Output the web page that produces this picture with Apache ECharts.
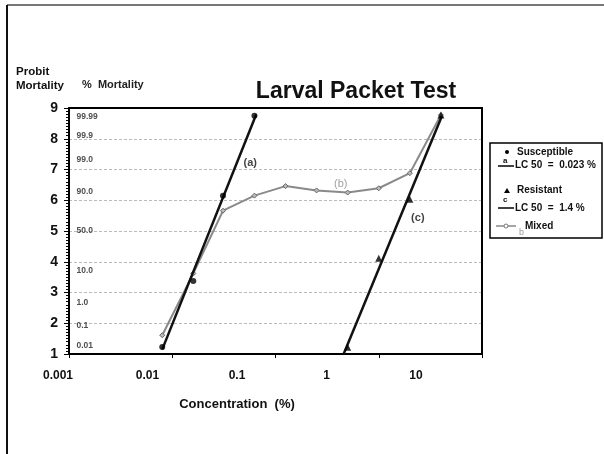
<!DOCTYPE html>
<html>
<head>
<meta charset="utf-8">
<script src="https://cdn.jsdelivr.net/npm/echarts@6/dist/echarts.min.js"></script>
<style>
  html, body { margin: 0; padding: 0; background: #fff; }
  #main { width: 604px; height: 454px; }
</style>
</head>
<body>
<div id="main"></div>
<script>
// data (concentration %, probit)
var susConc = [0.008, 0.016, 0.031, 0.0625];
var susProbit = [1.23, 3.37, 6.15, 8.75];
var resConc = [0.5, 1, 2, 4];
var resProbit = [1.22, 4.11, 6.03, 8.77];
var mixConc = [0.008, 0.016, 0.031, 0.0625, 0.125, 0.25, 0.5, 1, 2, 4];
var mixProbit = [1.61, 3.62, 5.66, 6.15, 6.46, 6.32, 6.25, 6.39, 6.88, 8.77];
// fitted lines (end points)
var lineA = [[0.008, 1.15], [0.065, 8.79]];
var lineC = [[0.457, 1.0], [4.09, 8.74]];
// % mortality scale printed inside the plot
var pctLabels = ['99.99', '99.9', '99.0', '90.0', '50.0', '10.0', '1.0', '0.1', '0.01'];
var pctProbit = [8.72, 8.09, 7.33, 6.28, 5.0, 3.72, 2.67, 1.91, 1.28];
var xTicks = ['0.001', '0.01', '0.1', '1', '10'];

var FONT = '"Liberation Sans", Arial, sans-serif';

function zip(xs, ys) {
  return xs.map(function (x, i) { return [x, ys[i]]; });
}

var chart = echarts.init(document.getElementById('main'));

// frame line for the top and right sides of the plot
var frameAxis = { show: true, lineStyle: { color: '#000', width: 2 } };

var option = {
  backgroundColor: '#fff',
  animation: false,
  textStyle: { fontFamily: FONT },
  title: {
    text: 'Larval Packet Test',
    left: 351, top: 75, textAlign: 'center',
    textStyle: { fontSize: 23, fontWeight: 'bold', color: '#111', fontFamily: FONT }
  },
  grid: [
    { left: 69, top: 108, right: 122, bottom: 100, show: false },
    { left: 58, top: 108, width: 358, bottom: 100, show: false }
  ],
  xAxis: [
    {
      type: 'log', logBase: 10, min: 0.001, max: 10, gridIndex: 0,
      axisLine: frameAxis,
      axisTick: { show: true, length: 4, lineStyle: { color: '#000' } },
      axisLabel: { show: false },
      splitLine: { show: false }
    },
    {
      type: 'log', logBase: 10, min: 0.001, max: 10, gridIndex: 1,
      axisLine: { show: false }, axisTick: { show: false }, splitLine: { show: false },
      axisLabel: {
        margin: 16, fontSize: 12, fontWeight: 'bold', color: '#111', fontFamily: FONT,
        formatter: function (v) {
          var i = Math.round(Math.log10(v)) + 3;
          return xTicks[i] || '';
        }
      },
      name: 'Concentration  (%)', nameLocation: 'middle', nameGap: 44,
      nameTextStyle: { fontSize: 13, fontWeight: 'bold', color: '#111', fontFamily: FONT }
    },
    {
      type: 'log', logBase: 10, min: 0.001, max: 10, gridIndex: 0, position: 'top',
      axisLine: frameAxis, axisTick: { show: false }, axisLabel: { show: false }, splitLine: { show: false }
    }
  ],
  yAxis: [
    {
      type: 'value', min: 1, max: 9, interval: 1, gridIndex: 0,
      axisLine: frameAxis,
      axisTick: { show: true, length: 5, lineStyle: { color: '#000' } },
      minorTick: { show: true, splitNumber: 10, length: 3, lineStyle: { color: '#000' } },
      axisLabel: { margin: 11, fontSize: 14, fontWeight: 'bold', color: '#111', fontFamily: FONT },
      splitLine: { show: true, lineStyle: { color: '#bbb', type: [3, 2], width: 1 } }
    },
    { type: 'value', min: 1, max: 9, gridIndex: 1, show: false },
    {
      type: 'value', min: 1, max: 9, gridIndex: 0, position: 'right',
      axisLine: frameAxis, axisTick: { show: false }, axisLabel: { show: false }, splitLine: { show: false }
    }
  ],
  graphic: [
    // page frame
    { type: 'line', shape: { x1: 7, y1: 5, x2: 604, y2: 5 }, style: { stroke: '#777', lineWidth: 2 } },
    { type: 'line', shape: { x1: 7, y1: 5, x2: 7, y2: 454 }, style: { stroke: '#111', lineWidth: 2 } },
    // axis headings
    { type: 'text', left: 16, top: 65, style: { text: 'Probit\nMortality', font: 'bold 11.5px ' + FONT, fill: '#111', lineHeight: 14 } },
    { type: 'text', left: 82, top: 79, style: { text: '%  Mortality', font: 'bold 11px ' + FONT, fill: '#222' } },
    // legend box
    { type: 'rect', shape: { x: 490, y: 143, width: 112, height: 95 }, style: { fill: '#fff', stroke: '#000', lineWidth: 1.5 } },
    { type: 'circle', shape: { cx: 507, cy: 152, r: 2 }, style: { fill: '#000' } },
    { type: 'text', x: 517, y: 152, style: { text: 'Susceptible', font: 'bold 10px ' + FONT, fill: '#111', verticalAlign: 'middle' } },
    { type: 'text', x: 503, y: 161, style: { text: 'a', font: 'bold 8px ' + FONT, fill: '#111', verticalAlign: 'middle' } },
    { type: 'line', shape: { x1: 498, y1: 166, x2: 514, y2: 166 }, style: { stroke: '#000', lineWidth: 1.5 } },
    { type: 'text', x: 515, y: 165, style: { text: 'LC 50  =  0.023 %', font: 'bold 10px ' + FONT, fill: '#111', verticalAlign: 'middle' } },
    { type: 'polygon', shape: { points: [[507, 188], [504, 193], [510, 193]] }, style: { fill: '#000' } },
    { type: 'text', x: 517, y: 190, style: { text: 'Resistant', font: 'bold 10px ' + FONT, fill: '#111', verticalAlign: 'middle' } },
    { type: 'text', x: 503, y: 200, style: { text: 'c', font: 'bold 8px ' + FONT, fill: '#111', verticalAlign: 'middle' } },
    { type: 'line', shape: { x1: 498, y1: 208, x2: 514, y2: 208 }, style: { stroke: '#000', lineWidth: 1.5 } },
    { type: 'text', x: 515, y: 208, style: { text: 'LC 50  =  1.4 %', font: 'bold 10px ' + FONT, fill: '#111', verticalAlign: 'middle' } },
    { type: 'line', shape: { x1: 496, y1: 226, x2: 516, y2: 226 }, style: { stroke: '#888', lineWidth: 1.5 } },
    { type: 'circle', shape: { cx: 506, cy: 226, r: 2 }, style: { fill: '#fff', stroke: '#777', lineWidth: 1 } },
    { type: 'text', x: 525, y: 226, style: { text: 'Mixed', font: 'bold 10px ' + FONT, fill: '#111', verticalAlign: 'middle' } },
    { type: 'text', x: 519, y: 233, style: { text: 'b', font: '9px ' + FONT, fill: '#999', verticalAlign: 'middle' } }
  ],
  series: [
    {
      name: 'Mixed', type: 'line', data: zip(mixConc, mixProbit),
      lineStyle: { color: '#8a8a8a', width: 2 },
      symbol: 'diamond', symbolSize: 5,
      itemStyle: { color: '#bbb', borderColor: '#666', borderWidth: 1 },
      z: 3
    },
    {
      name: 'Line a', type: 'line', data: lineA, symbol: 'none',
      lineStyle: { color: '#111', width: 2.5 }, z: 4
    },
    {
      name: 'Line c', type: 'line', data: lineC, symbol: 'none',
      lineStyle: { color: '#111', width: 2.5 }, z: 4
    },
    {
      name: 'Susceptible', type: 'scatter', data: zip(susConc, susProbit),
      symbol: 'circle', symbolSize: 6, itemStyle: { color: '#000' }, z: 5
    },
    {
      name: 'Resistant', type: 'scatter', data: zip(resConc, resProbit),
      symbol: 'triangle', symbolSize: 7, itemStyle: { color: '#000' }, z: 5
    },
    {
      name: 'pct', type: 'scatter', symbolSize: 0, silent: true,
      data: pctProbit.map(function (p) { return [0.00113, p]; }),
      label: {
        show: true, position: 'right', distance: 2,
        fontSize: 8.5, fontWeight: 'bold', color: '#222', fontFamily: FONT,
        formatter: function (p) { return pctLabels[p.dataIndex]; }
      }
    },
    {
      name: 'tags', type: 'scatter', symbolSize: 0, silent: true,
      data: [
        { value: [0.057, 7.21], label: { formatter: '(a)', color: '#111', fontWeight: 'bold' } },
        { value: [0.428, 6.53], label: { formatter: '(b)', color: '#888', fontWeight: 'normal' } },
        { value: [2.39, 5.42], label: { formatter: '(c)', color: '#111', fontWeight: 'bold' } }
      ],
      label: { show: true, position: 'inside', fontSize: 11, fontFamily: FONT }
    }
  ]
};

chart.setOption(option);
</script>
</body>
</html>
